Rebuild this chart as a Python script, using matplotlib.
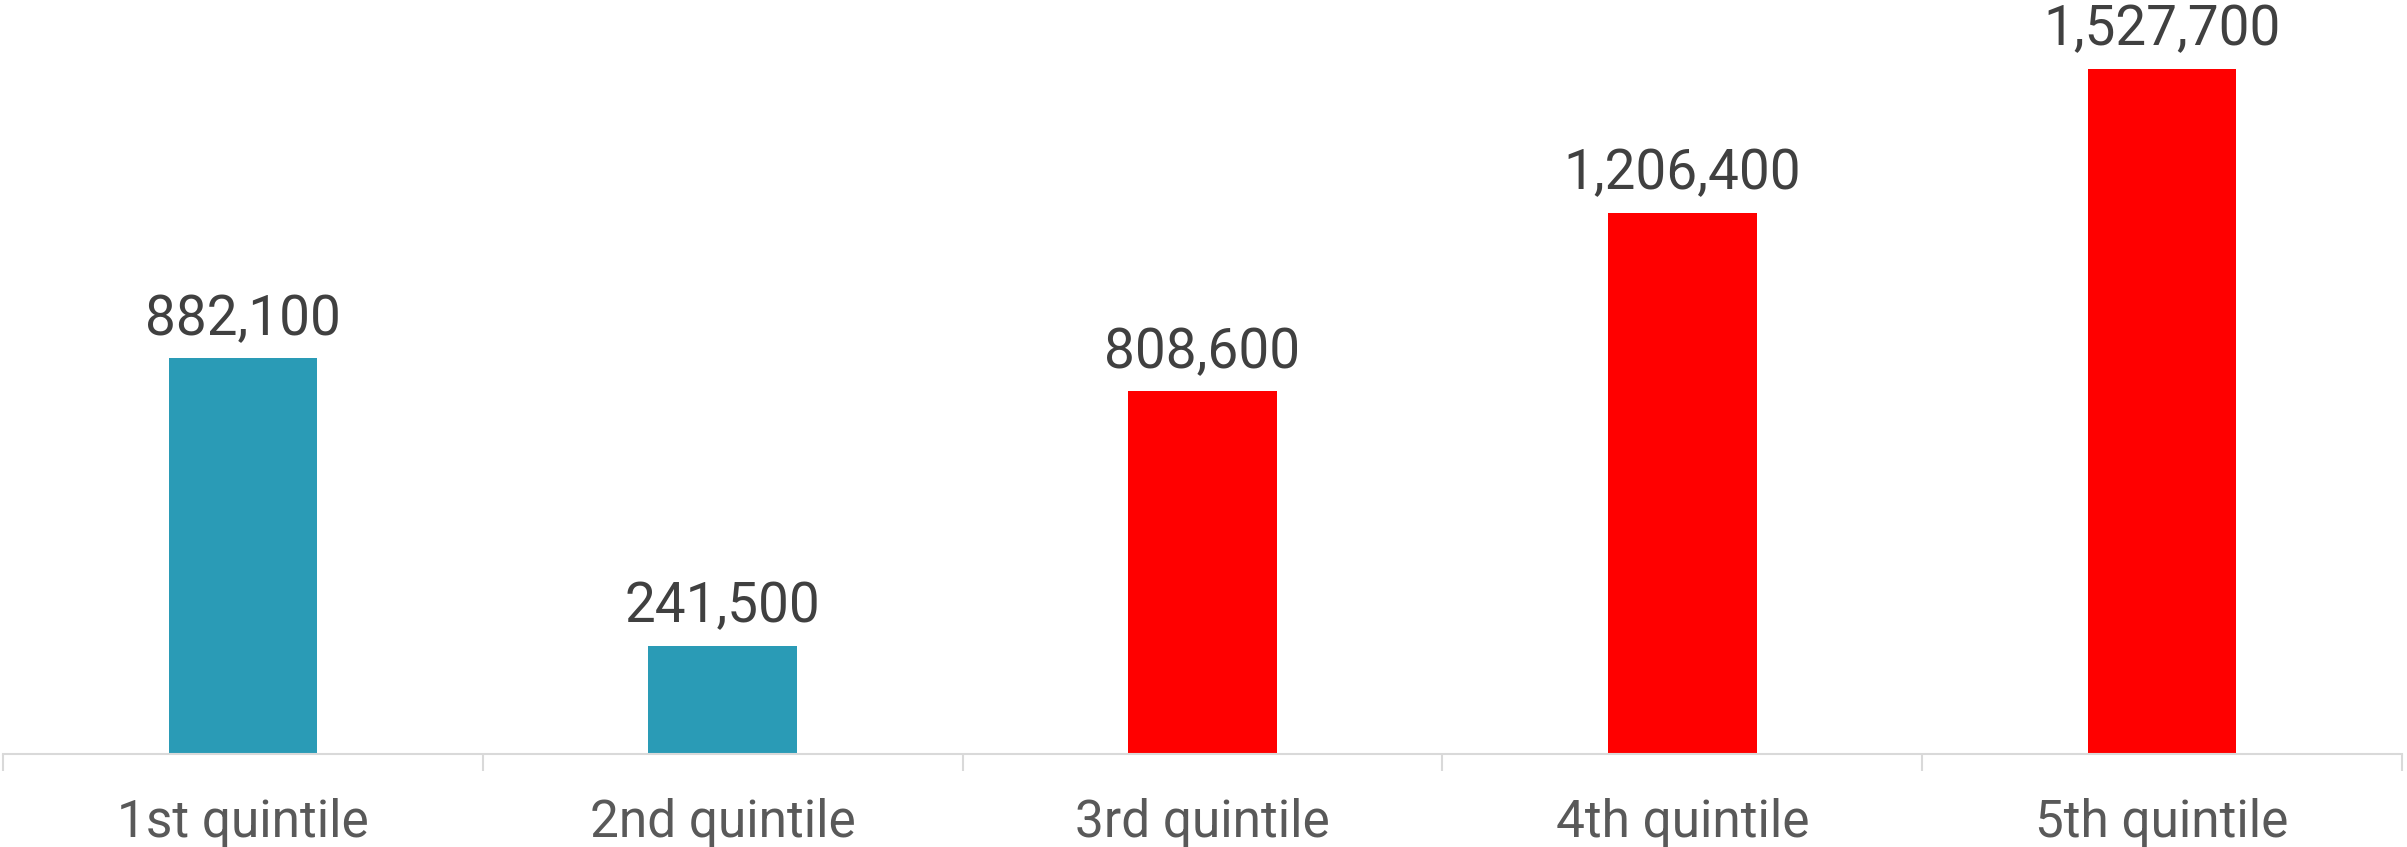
import numpy as np
import matplotlib.pyplot as plt
from matplotlib.ticker import FixedLocator

categories = ['1st quintile', '2nd quintile', '3rd quintile', '4th quintile', '5th quintile']
values = [882100, 241500, 808600, 1206400, 1527700]
bar_colors = ['#2A9BB6', '#2A9BB6', '#FF0000', '#FF0000', '#FF0000']

plt.rcParams['font.family'] = ['Roboto', 'DejaVu Sans']

fig = plt.figure(figsize=(24.07, 8.47), dpi=100)
ax = fig.add_axes([3/2407, 1 - 754/847, 2399/2407, 754/847])

x = np.arange(len(categories))
bars = ax.bar(x, values, width=0.31, color=bar_colors)

# value labels above each bar
for xi, v in zip(x, values):
    ax.annotate(f'{v:,}', (xi, v), xytext=(0, 9), textcoords='offset points',
                ha='center', va='bottom', fontsize=39.5, color='#404040')

ax.set_xlim(-0.5, len(categories) - 0.5)
ax.set_ylim(0, 1681600)

ax.set_xticks(x)
ax.set_xticklabels(categories, fontsize=37, color='#595959')
ax.tick_params(axis='x', which='major', length=0, pad=32)
ax.xaxis.set_minor_locator(FixedLocator(np.arange(-0.5, len(categories), 1.0)))
ax.tick_params(axis='x', which='minor', length=12, width=1.5, color='#D9D9D9')

ax.set_yticks([])
for s in ['top', 'right', 'left']:
    ax.spines[s].set_visible(False)
ax.spines['bottom'].set_color('#D9D9D9')
ax.spines['bottom'].set_linewidth(1.5)

fig.savefig('out.png', dpi=100)
